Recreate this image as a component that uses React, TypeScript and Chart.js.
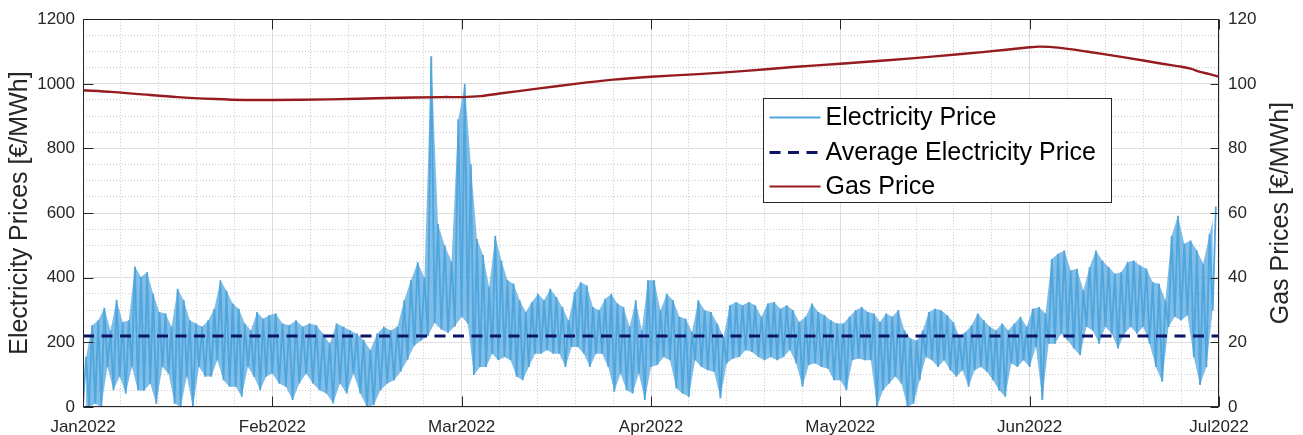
import React, { useEffect, useRef } from 'react';
import { Chart, registerables } from 'chart.js';

Chart.register(...registerables);

const FONT = "'Liberation Sans', Arial, Helvetica, sans-serif";

const monthLabels = ['Jan2022', 'Feb2022', 'Mar2022', 'Apr2022', 'May2022', 'Jun2022', 'Jul2022'];
const monthTicks = [0, 1, 2, 3, 4, 5, 6];
const leftTicks = [0, 200, 400, 600, 800, 1000, 1200];
const rightTicks = [0, 20, 40, 60, 80, 100, 120];
const legendLabels = ['Electricity Price', 'Average Electricity Price', 'Gas Price'];

// Daily high / low electricity prices [€/MWh]
const janHigh = [155, 253, 268, 307, 237, 332, 263, 268, 435, 402, 417, 350, 294, 289, 248, 366, 330, 268, 258, 248, 268, 304, 392, 360, 320, 304, 258, 237, 294, 273, 284];
const janLow = [0, 0, 10, 0, 124, 52, 94, 42, 124, 52, 50, 73, 10, 124, 104, 11, 0, 94, 0, 124, 94, 94, 145, 83, 63, 63, 32, 124, 94, 52, 94];
const febHigh = [289, 258, 253, 268, 248, 258, 253, 227, 196, 258, 248, 237, 227, 207, 176, 227, 248, 237, 248, 330, 392, 448, 400, 1085, 566, 500, 450, 890];
const febLow = [104, 73, 63, 22, 73, 104, 73, 52, 42, 11, 73, 42, 104, 42, 0, 6, 52, 73, 83, 110, 146, 190, 206, 220, 260, 240, 230, 250];
const marHigh = [1000, 751, 520, 470, 371, 530, 453, 392, 381, 330, 294, 325, 350, 330, 366, 340, 309, 268, 356, 386, 376, 309, 299, 335, 350, 320, 309, 248, 330, 237, 392];
const marLow = [279, 258, 99, 124, 124, 165, 145, 155, 145, 94, 83, 124, 165, 165, 176, 165, 165, 124, 186, 186, 165, 124, 165, 165, 124, 47, 104, 52, 42, 104, 22];
const aprHigh = [392, 299, 350, 330, 279, 273, 232, 330, 299, 294, 258, 217, 315, 325, 315, 325, 315, 279, 320, 325, 304, 315, 299, 263, 279, 320, 294, 284, 268, 258];
const aprLow = [124, 130, 155, 145, 58, 42, 32, 145, 124, 114, 109, 27, 135, 150, 155, 176, 170, 155, 145, 155, 145, 155, 176, 135, 63, 130, 135, 124, 119, 83];
const mayHigh = [258, 279, 299, 309, 294, 289, 263, 289, 279, 299, 237, 212, 206, 237, 294, 304, 299, 284, 263, 217, 232, 253, 289, 268, 248, 237, 258, 237, 258, 279, 248];
const mayLow = [83, 52, 145, 150, 145, 145, 0, 52, 73, 94, 73, 0, 11, 83, 155, 145, 124, 145, 114, 94, 114, 63, 114, 124, 109, 83, 52, 32, 135, 124, 145];
const junHigh = [304, 309, 289, 458, 474, 484, 422, 428, 361, 433, 484, 453, 433, 412, 417, 448, 453, 438, 428, 386, 381, 330, 530, 592, 505, 515, 484, 443, 535, 620];
const junLow = [124, 186, 22, 196, 196, 227, 207, 181, 160, 248, 237, 196, 248, 227, 181, 227, 248, 227, 248, 196, 124, 78, 248, 279, 268, 284, 155, 68, 124, 299];

const averagePrice = 220;

// Gas price [€/MWh] at positions measured in months from Jan 2022
const gasTime = [0, 0.15, 0.3, 0.5, 0.7, 0.85, 1.0, 1.3, 1.6, 1.9, 2.0, 2.1, 2.2, 2.4, 2.6, 2.8, 3.0, 3.25, 3.5, 3.75, 4.0, 4.25, 4.5, 4.75, 5.0, 5.05, 5.15, 5.3, 5.5, 5.7, 5.8, 5.85, 5.9, 5.95, 6.0];
const gasPrice = [98.0, 97.5, 96.8, 95.9, 95.3, 95.0, 95.0, 95.2, 95.6, 95.9, 95.9, 96.2, 97.0, 98.5, 100.0, 101.3, 102.2, 103.0, 104.0, 105.2, 106.2, 107.3, 108.5, 109.8, 111.3, 111.5, 111.2, 110.0, 108.2, 106.2, 105.3, 104.7, 103.7, 103.0, 102.2];

const monthHighs = [janHigh, febHigh, marHigh, aprHigh, mayHigh, junHigh];
const monthLows = [janLow, febLow, marLow, aprLow, mayLow, junLow];

const ELEC_COLOR = '#4FA5DE';
const AVG_COLOR = '#0D1466';
const GAS_COLOR = '#951B1E';
const AXIS_COLOR = '#262626';

function buildElectricity() {
  const zig: { x: number; y: number }[] = [];
  const upper: { x: number; y: number }[] = [];
  const lower: { x: number; y: number }[] = [];
  monthHighs.forEach((highs, m) => {
    const lows = monthLows[m];
    const n = highs.length;
    for (let d = 0; d < n; d++) {
      const xl = m + (d + 0.0) / n;
      const xh = m + (d + 0.5) / n;
      zig.push({ x: xl, y: lows[d] });
      zig.push({ x: xh, y: highs[d] });
      upper.push({ x: xh, y: highs[d] });
      lower.push({ x: xl, y: lows[d] });
    }
  });
  return { zig, upper, lower };
}

const framePlugin = {
  id: 'frame',
  afterDraw(chart: any) {
    const { ctx, chartArea: ca, scales } = chart;
    const L = Math.round(ca.left) + 0.5;
    const R = Math.round(ca.right) - 0.5;
    const T = Math.round(ca.top) + 0.5;
    const B = Math.round(ca.bottom) - 0.5;
    ctx.save();
    ctx.strokeStyle = AXIS_COLOR;
    ctx.lineWidth = 1;
    ctx.setLineDash([]);
    ctx.strokeRect(L, T, R - L, B - T);
    ctx.beginPath();
    leftTicks.forEach((v) => {
      const y = Math.round(scales.y.getPixelForValue(v)) + 0.5;
      ctx.moveTo(L, y);
      ctx.lineTo(L + 10, y);
    });
    rightTicks.forEach((v) => {
      const y = Math.round(scales.y2.getPixelForValue(v)) + 0.5;
      ctx.moveTo(R, y);
      ctx.lineTo(R - 8, y);
    });
    monthTicks.forEach((v) => {
      const x = Math.round(scales.x.getPixelForValue(v)) + 0.5;
      ctx.moveTo(x, B);
      ctx.lineTo(x, B - 10);
      ctx.moveTo(x, T);
      ctx.lineTo(x, T + 10);
    });
    ctx.stroke();

    // axis titles
    const midY = (ca.top + ca.bottom) / 2;
    ctx.fillStyle = AXIS_COLOR;
    ctx.font = `25px ${FONT}`;
    ctx.textAlign = 'center';
    ctx.textBaseline = 'middle';
    ctx.save();
    ctx.translate(20, midY);
    ctx.rotate(-Math.PI / 2);
    ctx.fillText('Electricity Prices [€/MWh]', 0, 0);
    ctx.restore();
    ctx.save();
    ctx.translate(ca.right + 62, midY);
    ctx.rotate(-Math.PI / 2);
    ctx.fillText('Gas Prices [€/MWh]', 0, 0);
    ctx.restore();

    // legend
    const bx = Math.round(ca.left + 680) + 0.5;
    const by = Math.round(ca.top + 79) + 0.5;
    const bw = 348;
    const bh = 104;
    ctx.fillStyle = '#ffffff';
    ctx.fillRect(bx, by, bw, bh);
    ctx.strokeStyle = AXIS_COLOR;
    ctx.lineWidth = 1;
    ctx.strokeRect(bx, by, bw, bh);
    const colors = [ELEC_COLOR, AVG_COLOR, GAS_COLOR];
    const rows = [19, 54, 88];
    legendLabels.forEach((label, i) => {
      const y = by + rows[i];
      ctx.beginPath();
      ctx.strokeStyle = colors[i];
      ctx.lineWidth = i === 1 ? 3 : 2.2;
      ctx.setLineDash(i === 1 ? [11, 7.5] : []);
      ctx.moveTo(bx + 6, y);
      ctx.lineTo(bx + 57, y);
      ctx.stroke();
      ctx.setLineDash([]);
      ctx.fillStyle = '#000000';
      ctx.textAlign = 'left';
      ctx.font = `25px ${FONT}`;
      ctx.fillText(label, bx + 62, y + 1);
    });
    ctx.restore();
  },
};

export default function App() {
  const ref = useRef<HTMLCanvasElement>(null);
  useEffect(() => {
    const canvas = ref.current;
    if (!canvas) return;
    const elec = buildElectricity();
    const gas = gasTime.map((t, i) => ({ x: t, y: gasPrice[i] }));
    const minorX: number[] = [];
    for (let i = 0; i <= 30; i++) if (i % 5 !== 0) minorX.push(i / 5);
    const minorY: number[] = [];
    for (let v = 0; v <= 1200; v += 50) if (v % 200 !== 0) minorY.push(v);
    const tickFont = { family: FONT, size: 17 };
    const majorGrid = '#dedede';
    const minorGrid = '#cacaca';

    const chart = new Chart(canvas, {
      type: 'line',
      data: {
        datasets: [
          {
            label: 'Electricity Price',
            data: elec.zig,
            borderColor: ELEC_COLOR,
            backgroundColor: ELEC_COLOR,
            borderWidth: 1.8,
            pointRadius: 0,
            tension: 0,
            borderJoinStyle: 'bevel',
            xAxisID: 'x',
            yAxisID: 'y',
            order: 2,
          },
          {
            label: 'Average Electricity Price',
            data: [
              { x: 0, y: averagePrice },
              { x: 6, y: averagePrice },
            ],
            borderColor: AVG_COLOR,
            backgroundColor: AVG_COLOR,
            borderWidth: 3,
            borderDash: [11, 7.5],
            pointRadius: 0,
            xAxisID: 'x',
            yAxisID: 'y',
            order: 1,
          },
          {
            label: 'Gas Price',
            data: gas,
            borderColor: GAS_COLOR,
            backgroundColor: GAS_COLOR,
            borderWidth: 2.4,
            pointRadius: 0,
            tension: 0.3,
            xAxisID: 'x',
            yAxisID: 'y2',
            order: 0,
          },
          {
            label: 'daily low',
            data: elec.lower,
            borderWidth: 0,
            borderColor: 'rgba(0,0,0,0)',
            pointRadius: 0,
            tension: 0,
            fill: false,
            xAxisID: 'x',
            yAxisID: 'y',
            order: 4,
          },
          {
            label: 'daily high',
            data: elec.upper,
            borderWidth: 0,
            borderColor: 'rgba(0,0,0,0)',
            backgroundColor: 'rgba(79,165,222,0.72)',
            pointRadius: 0,
            tension: 0,
            fill: '-1',
            xAxisID: 'x',
            yAxisID: 'y',
            order: 3,
          },
        ],
      },
      options: {
        responsive: false,
        animation: false,
        devicePixelRatio: 1,
        events: [],
        layout: { padding: { top: 18, left: 0, right: 0, bottom: 0 } },
        plugins: {
          legend: { display: false },
          tooltip: { enabled: false },
          filler: { propagate: false },
        },
        scales: {
          x: {
            type: 'linear',
            position: 'bottom',
            min: 0,
            max: 6,
            afterBuildTicks: (scale: any) => {
              scale.ticks = monthTicks.map((v) => ({ value: v }));
            },
            afterFit: (scale: any) => {
              scale.height = 28;
            },
            ticks: {
              callback: (v: any) => monthLabels[Math.round(Number(v))],
              font: tickFont,
              color: AXIS_COLOR,
              padding: 10,
              maxRotation: 0,
              autoSkip: false,
            },
            grid: { color: majorGrid, drawTicks: false, lineWidth: 1 },
            border: { display: false },
          },
          xMinor: {
            type: 'linear',
            position: 'bottom',
            min: 0,
            max: 6,
            afterBuildTicks: (scale: any) => {
              scale.ticks = minorX.map((v) => ({ value: v }));
            },
            afterFit: (scale: any) => {
              scale.height = 0;
            },
            ticks: { display: false },
            grid: { color: minorGrid, drawTicks: false, lineWidth: 1 },
            border: { display: false, dash: [1, 2] },
          },
          y: {
            type: 'linear',
            position: 'left',
            min: 0,
            max: 1200,
            afterBuildTicks: (scale: any) => {
              scale.ticks = leftTicks.map((v) => ({ value: v }));
            },
            afterFit: (scale: any) => {
              scale.width = 83;
            },
            ticks: {
              font: tickFont,
              color: AXIS_COLOR,
              padding: 8,
              callback: (v: any) => String(v),
            },
            grid: { color: majorGrid, drawTicks: false, lineWidth: 1 },
            border: { display: false },
          },
          yMinor: {
            type: 'linear',
            position: 'left',
            min: 0,
            max: 1200,
            afterBuildTicks: (scale: any) => {
              scale.ticks = minorY.map((v) => ({ value: v }));
            },
            afterFit: (scale: any) => {
              scale.width = 0;
            },
            ticks: { display: false },
            grid: { color: minorGrid, drawTicks: false, lineWidth: 1 },
            border: { display: false, dash: [1, 2] },
          },
          y2: {
            type: 'linear',
            position: 'right',
            min: 0,
            max: 120,
            afterBuildTicks: (scale: any) => {
              scale.ticks = rightTicks.map((v) => ({ value: v }));
            },
            afterFit: (scale: any) => {
              scale.width = 84;
            },
            ticks: {
              font: tickFont,
              color: AXIS_COLOR,
              padding: 9,
              callback: (v: any) => String(v),
            },
            grid: { drawOnChartArea: false, drawTicks: false },
            border: { display: false },
          },
        },
      } as any,
      plugins: [framePlugin],
    });
    return () => chart.destroy();
  }, []);

  return (
    <div style={{ position: 'absolute', left: 0, top: 0, width: 1303, height: 435, background: '#ffffff' }}>
      <canvas ref={ref} width={1303} height={435} style={{ display: 'block', width: 1303, height: 435 }} />
    </div>
  );
}
